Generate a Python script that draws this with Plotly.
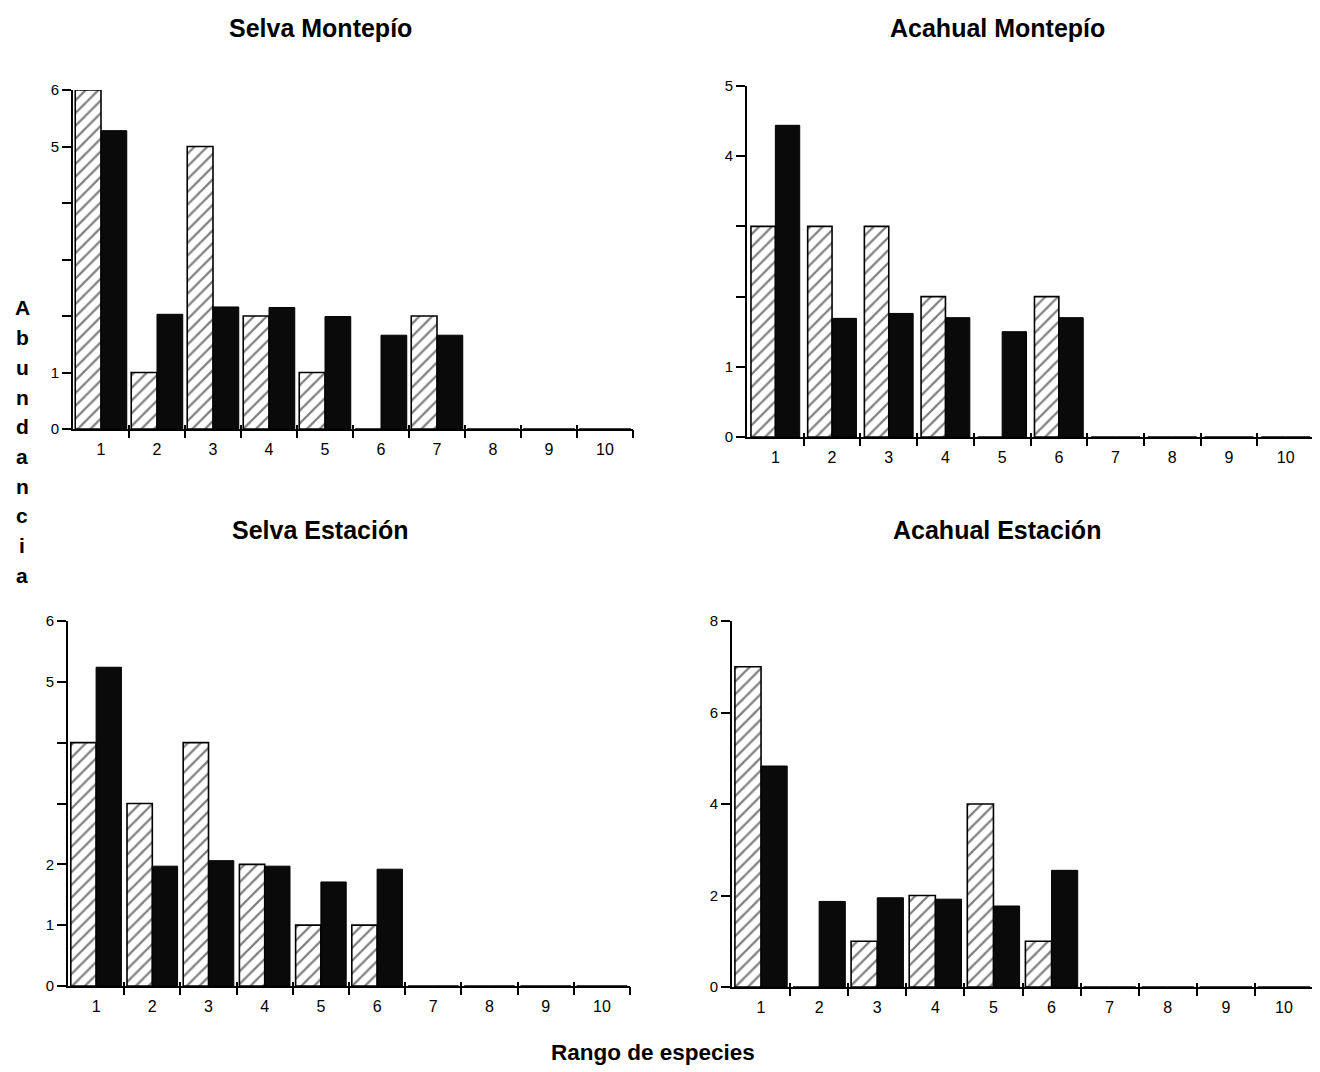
import plotly.graph_objects as go

ranks = [1, 2, 3, 4, 5, 6, 7, 8, 9, 10]
rank_labels = [str(r) for r in ranks]

titles = ["Selva Montepío", "Acahual Montepío", "Selva Estación", "Acahual Estación"]

# hatched (observed) and black (expected) bars per panel
selva_mont_hatch = [6, 1, 5, 2, 1, 0, 2, 0, 0, 0]
selva_mont_black = [5.28, 2.03, 2.16, 2.15, 1.99, 1.66, 1.66, 0, 0, 0]
acah_mont_hatch = [3, 3, 3, 2, 0, 2, 0, 0, 0, 0]
acah_mont_black = [4.44, 1.69, 1.76, 1.70, 1.50, 1.70, 0, 0, 0, 0]
selva_est_hatch = [4, 3, 4, 2, 1, 1, 0, 0, 0, 0]
selva_est_black = [5.24, 1.97, 2.06, 1.97, 1.71, 1.92, 0, 0, 0, 0]
acah_est_hatch = [7, 0, 1, 2, 4, 1, 0, 0, 0, 0]
acah_est_black = [4.83, 1.87, 1.95, 1.92, 1.77, 2.55, 0, 0, 0, 0]

y_ranges = [6, 5, 6, 8]
y_tickvals = [[0, 1, 2, 3, 4, 5, 6], [0, 1, 2, 3, 4, 5], [0, 1, 2, 3, 4, 5, 6], [0, 2, 4, 6, 8]]
y_ticktext = [["0", "1", "", "", "", "5", "6"], ["0", "1", "", "", "4", "5"],
              ["0", "1", "2", "", "", "5", "6"], ["0", "2", "4", "6", "8"]]

hatch_sets = [selva_mont_hatch, acah_mont_hatch, selva_est_hatch, acah_est_hatch]
black_sets = [selva_mont_black, acah_mont_black, selva_est_black, acah_est_black]

# page body has an 8px margin, so the figure is drawn 8px in
OFF = 8
W, H = 1320 - OFF, 1072 - OFF


def px(x):
    return (x - OFF) / W


def py(y):
    return 1 - (y - OFF) / H


# pixel boxes in screen coords: x0, x1, ytop, ybottom
boxes = [(73, 633, 90, 429), (747, 1314, 86, 437), (68, 630, 621, 986), (732, 1313, 621, 987)]
half_w = [0.46, 0.43, 0.45, 0.45]
title_pos = [(320, 28), (997, 28), (320, 530), (997, 530)]

fig = go.Figure()
layout = {}
for i in range(4):
    n = i + 1
    xa = "x" if n == 1 else f"x{n}"
    ya = "y" if n == 1 else f"y{n}"
    x0, x1, yt, yb = boxes[i]
    xd = [px(x0), px(x1)]
    yd = [py(yb), py(yt)]
    w = half_w[i]
    fig.add_trace(go.Bar(x=ranks, y=hatch_sets[i], xaxis=xa, yaxis=ya, width=w, offset=-w,
                         marker=dict(color="white",
                                     line=dict(color="black", width=1.6),
                                     pattern=dict(shape="/", fgcolor="black", bgcolor="white",
                                                  size=9, solidity=0.25)),
                         showlegend=False))
    fig.add_trace(go.Bar(x=ranks, y=black_sets[i], xaxis=xa, yaxis=ya, width=w, offset=0,
                         marker=dict(color="#0a0a0a", line=dict(color="black", width=1)),
                         showlegend=False))
    for k, side_ticks, tl in [(n + 4, "outside", 8), (n + 8, "inside", 4)]:
        fig.add_trace(go.Scatter(x=[1], y=[0], xaxis=f"x{k}", yaxis=ya, mode="markers",
                                 marker=dict(opacity=0), showlegend=False, hoverinfo="skip"))
        layout[f"xaxis{k}"] = dict(domain=xd, anchor=ya, overlaying=xa, range=[0.5, 10.5],
                                   tickvals=[r + 0.5 for r in ranks], ticks=side_ticks,
                                   ticklen=tl, tickwidth=1.6, tickcolor="black",
                                   showticklabels=False, showline=False, showgrid=False,
                                   zeroline=False, side="bottom", automargin=False)
    xkey = "xaxis" if n == 1 else f"xaxis{n}"
    ykey = "yaxis" if n == 1 else f"yaxis{n}"
    layout[xkey] = dict(domain=xd, anchor=ya, range=[0.5, 10.5], tickvals=ranks,
                        ticktext=rank_labels, ticks="", showline=True, linecolor="black",
                        linewidth=2, showgrid=False, zeroline=False, automargin=False,
                        ticklabelstandoff=5,
                        tickfont=dict(family="Arial", size=16, color="black"))
    layout[ykey] = dict(domain=yd, anchor=xa, range=[0, y_ranges[i]], tickvals=y_tickvals[i],
                        ticktext=y_ticktext[i], ticks="outside", ticklen=9, tickwidth=1.6,
                        tickcolor="black", showline=True, linecolor="black", linewidth=2,
                        showgrid=False, zeroline=False, automargin=False,
                        tickfont=dict(family="Arial", size=15, color="black"))

annotations = []
for i in range(4):
    tx, ty = title_pos[i]
    annotations.append(dict(text=f"<b>{titles[i]}</b>", x=px(tx), y=py(ty), xref="paper",
                            yref="paper", showarrow=False, xanchor="center", yanchor="middle",
                            font=dict(family="Arial", size=25, color="black")))
ylabel = "Abundancia"
for j, ch in enumerate(ylabel):
    annotations.append(dict(text=f"<b>{ch}</b>", x=px(22), y=py(308 + 29.7 * j),
                            xref="paper", yref="paper", showarrow=False, xanchor="center",
                            yanchor="middle", font=dict(family="Arial", size=21, color="black")))
annotations.append(dict(text="<b>Rango de especies</b>", x=px(653), y=py(1052),
                        xref="paper", yref="paper", showarrow=False, xanchor="center",
                        yanchor="middle", font=dict(family="Arial", size=22.5, color="black")))

fig.update_layout(width=W, height=H, margin=dict(l=0, r=0, t=0, b=0, autoexpand=False),
                  paper_bgcolor="white", plot_bgcolor="white", barmode="overlay",
                  annotations=annotations, **layout)

fig.write_html("out.html")
